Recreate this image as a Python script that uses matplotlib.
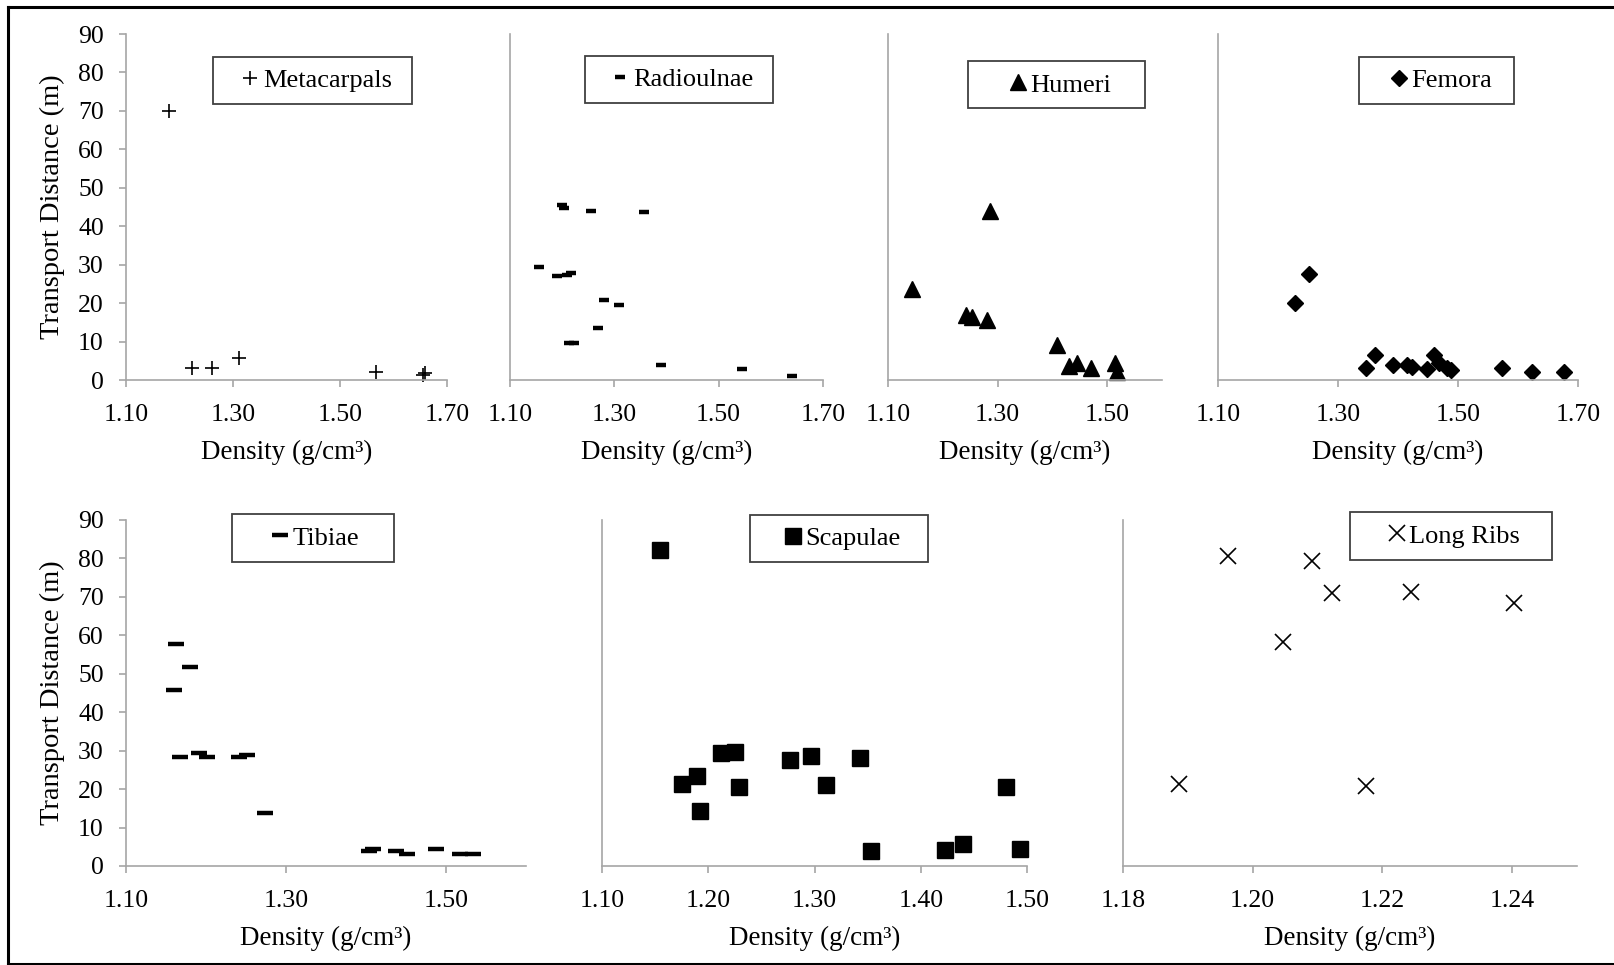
import matplotlib
matplotlib.use("Agg")
import numpy as np
import matplotlib.pyplot as plt
from matplotlib.ticker import FormatStrFormatter, MultipleLocator
from matplotlib.lines import Line2D
from matplotlib.legend_handler import HandlerLine2D

# density (g/cm3) and transport distance (m) per element
meta_x = [1.181, 1.223, 1.260, 1.312, 1.568, 1.655, 1.658]
meta_y = [70.0, 3.0, 3.0, 5.6, 2.2, 1.2, 1.9]

radio_x = [1.200, 1.203, 1.255, 1.356, 1.156, 1.191, 1.209, 1.217, 1.280, 1.308,
           1.268, 1.214, 1.223, 1.390, 1.545, 1.641]
radio_y = [45.5, 44.8, 43.9, 43.6, 29.3, 27.0, 27.4, 27.8, 20.9, 19.4,
           13.4, 9.7, 9.5, 4.0, 2.9, 1.0]

humeri_x = [1.287, 1.143, 1.243, 1.253, 1.281, 1.409, 1.430, 1.445, 1.470, 1.515, 1.517]
humeri_y = [44.0, 23.6, 16.9, 16.3, 15.6, 9.2, 3.6, 4.4, 3.2, 4.5, 2.0]

femora_x = [1.229, 1.251, 1.346, 1.362, 1.392, 1.415, 1.423, 1.448, 1.460, 1.468,
            1.481, 1.488, 1.574, 1.624, 1.677]
femora_y = [20.1, 27.5, 3.0, 6.5, 3.9, 3.9, 3.5, 2.8, 6.5, 4.3,
            3.0, 2.6, 3.0, 2.0, 2.2]

tibiae_x = [1.162, 1.180, 1.160, 1.167, 1.191, 1.201, 1.241, 1.251, 1.274, 1.404,
            1.409, 1.438, 1.451, 1.487, 1.517, 1.534]
tibiae_y = [57.7, 51.8, 45.7, 28.4, 29.5, 28.4, 28.4, 28.8, 13.8, 3.8,
            4.3, 3.9, 3.0, 4.5, 3.0, 3.0]

scap_x = [1.155, 1.175, 1.189, 1.192, 1.212, 1.225, 1.229, 1.277, 1.297, 1.311,
          1.343, 1.353, 1.423, 1.440, 1.480, 1.493]
scap_y = [82.2, 21.4, 23.4, 14.3, 29.3, 29.7, 20.6, 27.7, 28.6, 21.0,
          28.1, 3.8, 4.1, 5.8, 20.6, 4.5]

ribs_x = [1.1962, 1.2091, 1.2122, 1.2244, 1.2403, 1.2047, 1.1887, 1.2175]
ribs_y = [80.7, 79.3, 70.9, 71.4, 68.3, 58.3, 21.3, 20.8]

SERIF = "Liberation Serif"
plt.rcParams.update({
    "font.family": SERIF,
    "font.serif": [SERIF],
    "font.size": 18.5,
    "xtick.labelsize": 18.5,
    "ytick.labelsize": 18.5,
    "axes.labelsize": 19.5,
    "legend.fontsize": 19,
})


class MarkerAtEnd(HandlerLine2D):
    # Excel-style legend: marker sits right before the label text
    def create_artists(self, legend, orig_handle, xdescent, ydescent, width, height,
                       fontsize, trans):
        arts = super().create_artists(legend, orig_handle, xdescent, ydescent, width,
                                      height, fontsize, trans)
        for a in arts:
            a.set_xdata([width - xdescent - 9.0] * 3)
        return arts


fig = plt.figure(figsize=(16.15, 9.65), dpi=100)

W, H = 1615, 965


def make_ax(x0, x1, ytop, ybot):
    return fig.add_axes([x0 / W, 1 - ybot / H, (x1 - x0) / W, (ybot - ytop) / H])


# (axes box px, data, label, marker style, xlim, xstep, legend box (x0, yc, w), handle length)
panels = [
    ((126, 447, 34, 380), meta_x, meta_y, "Metacarpals",
     dict(marker="+", ms=10.5, mew=1.2), (1.10, 1.70), 0.2, (0.271, 0.866, 0.620), 1.44),
    ((510, 823, 34, 380), radio_x, radio_y, "Radioulnae",
     dict(marker="_", ms=7, mew=3.2), (1.10, 1.70), 0.2, (0.240, 0.868, 0.601), 1.36),
    ((888, 1162, 34, 380), humeri_x, humeri_y, "Humeri",
     dict(marker="^", ms=11.5), (1.10, 1.60), 0.2, (0.292, 0.853, 0.646), 1.92),
    ((1218, 1578, 34, 380), femora_x, femora_y, "Femora",
     dict(marker="D", ms=8.5), (1.10, 1.70), 0.2, (0.392, 0.866, 0.431), 1.52),
    ((126, 526, 520, 866), tibiae_x, tibiae_y, "Tibiae",
     dict(marker="_", ms=11, mew=3.2), (1.10, 1.60), 0.2, (0.264, 0.948, 0.405), 1.87),
    ((602, 1027, 520, 866), scap_x, scap_y, "Scapulae",
     dict(marker="s", ms=11.5), (1.10, 1.50), 0.1, (0.349, 0.946, 0.417), 1.63),
    ((1123, 1577, 520, 866), ribs_x, ribs_y, "Long Ribs",
     dict(marker="x", ms=12, mew=1.2), (1.18, 1.25), 0.02, (0.499, 0.954, 0.446), 1.82),
]

for i, (box, xs, ys, name, style, xlim, step, leg, hl) in enumerate(panels):
    ax = make_ax(box[0], box[1], box[2], box[3])
    ax.plot(xs, ys, linestyle="none", color="black", mfc="black", mec="black",
            clip_on=False, label=name, **style)
    ax.set_xlim(*xlim)
    ax.set_ylim(0, 90)
    ax.set_xticks(np.arange(xlim[0], xlim[1] + 1e-9, step))
    ax.xaxis.set_major_formatter(FormatStrFormatter("%.2f"))
    ax.yaxis.set_major_locator(MultipleLocator(10))
    for s in ["top", "right"]:
        ax.spines[s].set_visible(False)
    for s in ["left", "bottom"]:
        ax.spines[s].set_color("#a6a6a6")
        ax.spines[s].set_linewidth(1.2)
    ax.tick_params(axis="x", direction="out", length=5, width=1.2, color="#a6a6a6",
                   pad=12, labelfontfamily=SERIF)
    ax.tick_params(axis="y", direction="out", length=5, width=1.2, color="#a6a6a6",
                   pad=11, labelfontfamily=SERIF)
    ax.set_xlabel("Density (g/cm³)", labelpad=10.5)
    if i in (0, 4):
        ax.set_ylabel("Transport Distance (m)", fontsize=20.5)
        ax.yaxis.set_label_coords(-0.19 if i == 0 else -0.152, 0.5)
    else:
        ax.tick_params(axis="y", left=False, labelleft=False)
    lg = ax.legend(loc="center", bbox_to_anchor=(leg[0], leg[1], leg[2], 0), mode="expand",
                   numpoints=1, handlelength=hl, handletextpad=0.0, borderpad=0.45,
                   fancybox=False, framealpha=1, edgecolor="#404040", borderaxespad=0,
                   handler_map={Line2D: MarkerAtEnd()})
    lg.get_frame().set_linewidth(1.3)

# outer frame of the figure (left, top and bottom edges)
x_l, y_t, y_b = 8.5 / W, 1 - 6.5 / H, 1 - 963.5 / H
for xs_, ys_ in [([x_l, 1.0], [y_t, y_t]), ([x_l, x_l], [y_t, y_b]), ([x_l, 1.0], [y_b, y_b])]:
    fig.add_artist(Line2D(xs_, ys_, transform=fig.transFigure, color="black", linewidth=2.2))

fig.savefig("out.png", dpi=100)
